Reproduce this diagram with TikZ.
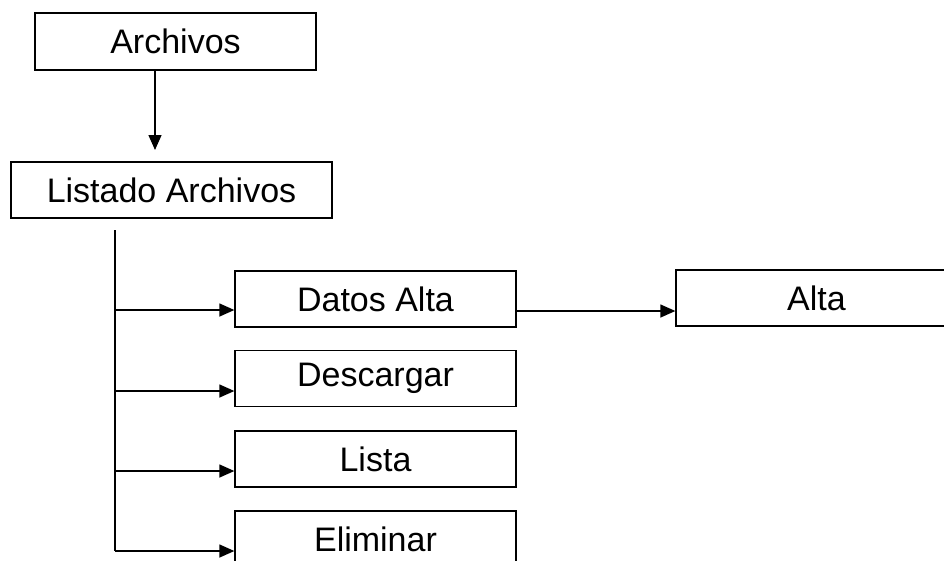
\documentclass[tikz,border=0pt]{standalone}
\usepackage{fontspec}
\setmainfont{Liberation Sans}
\usetikzlibrary{arrows.meta}

\begin{document}
\begin{tikzpicture}[x=1pt, y=-1pt,
        box/.style={draw, line width=1.3pt, minimum width=281pt, minimum height=56pt, inner sep=0pt, font=\fontsize{34}{40}\selectfont},
        link/.style={line width=1.3pt, -{Triangle[length=15pt, width=13pt]}}]
            \clip (0,0) rectangle (944,560);

            % Top boxes
            \node[box, minimum height=57pt] (arch) at (175.5,41.5) {Archivos};
            \node[box, minimum width=321pt] (list) at (171.5,190) {Listado Archivos};

            % Option boxes
            \node[box] (datos) at (375.5,299) {Datos Alta};
            \node[box] (desc) at (375.5,378.5) {Descargar};
            \node[box] (lista) at (375.5,459) {Lista};
            \node[box] (elim) at (375.5,539) {Eliminar};
            \node[box] (alta) at (816.5,298) {Alta};

            % Arrow down to the list
            \coordinate (down) at (155,150);
            \draw[link] (down |- arch.south) -- (down);

            % Trunk and branches to the options
            \coordinate (trtop) at (115,230);
            \coordinate (trbot) at (115,551);
            \draw[line width=1.3pt] (trtop) -- (trbot);
            \foreach \n/\y in {datos/310, desc/391, lista/471, elim/551}
                \draw[link] (trtop |- 0,\y) -- (\n.west |- 0,\y);

            % Datos Alta to Alta
            \draw[link] (datos.east |- 0,311) -- (alta.west |- 0,311);
        \end{tikzpicture}
\end{document}
